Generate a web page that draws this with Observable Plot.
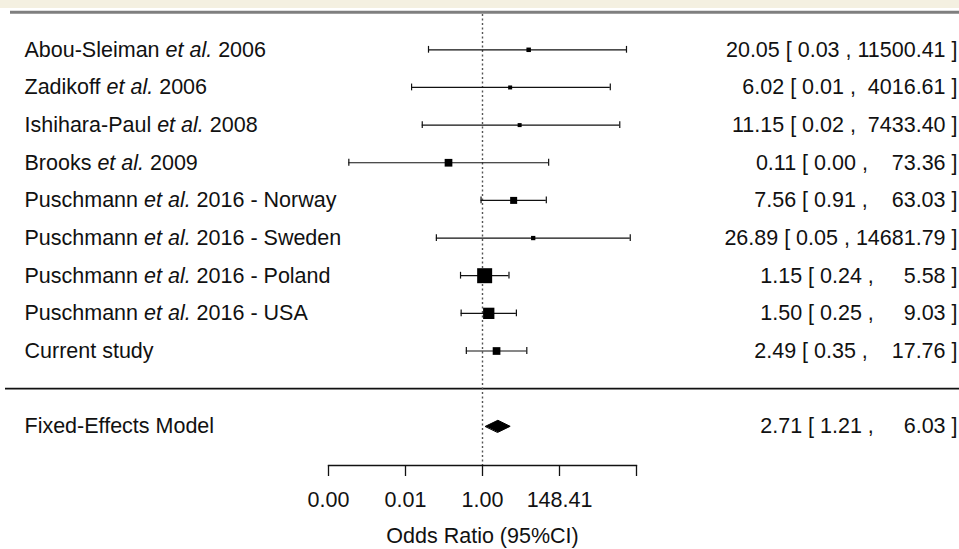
<!DOCTYPE html>
<html>
<head>
<meta charset="utf-8">
<script src="https://cdn.jsdelivr.net/npm/d3@7"></script>
<script src="https://cdn.jsdelivr.net/npm/@observablehq/plot@0.6"></script>
<style>
  html, body { margin: 0; padding: 0; background: #fff; }
  svg text { white-space: pre; }
</style>
</head>
<body>
<div id="chart"></div>
<script>
// ---- data ----
const studies = [
  "Abou-Sleiman et al. 2006",
  "Zadikoff et al. 2006",
  "Ishihara-Paul et al. 2008",
  "Brooks et al. 2009",
  "Puschmann et al. 2016 - Norway",
  "Puschmann et al. 2016 - Sweden",
  "Puschmann et al. 2016 - Poland",
  "Puschmann et al. 2016 - USA",
  "Current study"
];
const oddsRatio = [20.05, 6.02, 11.15, 0.11, 7.56, 26.89, 1.15, 1.50, 2.49];
const ciLower   = [0.03, 0.01, 0.02, 0.00017, 0.91, 0.05, 0.24, 0.25, 0.35];
const ciUpper   = [11500.41, 4016.61, 7433.40, 73.36, 63.03, 14681.79, 5.58, 9.03, 17.76];
const relWeight = [4.5, 4.0, 4.0, 7.7, 7.0, 4.3, 15.0, 11.3, 7.7];

const summaryLabel = "Fixed-Effects Model";
const summaryOR = [2.71];
const summaryLower = [1.21];
const summaryUpper = [6.03];

const tickLogs = [-10, -5, 0, 5, 10];
const tickLabels = ["0.00", "0.01", "1.00", "148.41", ""];
const axisTitle = "Odds Ratio (95%CI)";

// ---- tables ----
const rows = studies.map((s, i) => ({
  study: s, row: i, or: oddsRatio[i], lo: ciLower[i], hi: ciUpper[i], w: relWeight[i]
}));
const summaryRow = studies.length + 1;
const fmt = (est, lo, hi) =>
  `${est.toFixed(2).padStart(5)} [ ${lo.toFixed(2)} , ${hi.toFixed(2).padStart(8)} ]`;
rows.forEach(d => d.label = fmt(d.or, d.lo, d.hi));
const summary = [{
  study: summaryLabel, row: summaryRow, or: summaryOR[0], lo: summaryLower[0], hi: summaryUpper[0],
  label: fmt(summaryOR[0], summaryLower[0], summaryUpper[0])
}];
const dh = 0.16;
const diamond = [
  {x: summary[0].lo, y: summaryRow},
  {x: summary[0].or, y: summaryRow - dh},
  {x: summary[0].hi, y: summaryRow},
  {x: summary[0].or, y: summaryRow + dh}
];

const ticks = tickLogs.map((v, i) => ({x: Math.exp(v), label: tickLabels[i]}));

const capH = 0.09;
const font = "'Liberation Sans', Arial, Helvetica, sans-serif";
const ink = "#111";

const plot = Plot.plot({
  width: 959,
  height: 549,
  marginLeft: 328,
  marginRight: 323,
  marginTop: 14,
  marginBottom: 84,
  style: {
    fontFamily: font,
    fontSize: "21.5px",
    color: ink,
    background: "linear-gradient(to bottom, #f4f0e1 0px, #f4f0e1 8px, #ffffff 8px, #ffffff 100%)",
    overflow: "visible"
  },
  x: {type: "log", domain: [Math.exp(-10), Math.exp(10)]},
  y: {domain: [0, summaryRow], range: [49.3, 425.8], axis: null},
  r: {type: "linear", domain: [0, 15], range: [0, 15 / Math.sqrt(Math.PI)]},
  marks: [
    // top grey rule and separator line
    Plot.ruleY([-1], {stroke: "#7f7f7f", strokeWidth: 3, insetLeft: -318, insetRight: -323}),
    Plot.ruleY([studies.length], {stroke: ink, strokeWidth: 1.6, insetLeft: -323, insetRight: -323}),
    // reference line at OR = 1
    Plot.ruleX([1], {stroke: "#555", strokeWidth: 1.4, strokeDasharray: "2,2.5"}),
    // axis
    Plot.frame({anchor: "bottom", stroke: ink, strokeWidth: 1.3}),
    Plot.axisX({ticks: ticks.map(d => d.x), tickFormat: () => "", tickSize: 11, label: null, stroke: ink, strokeWidth: 1.3}),
    Plot.text(ticks, {x: "x", text: "label", frameAnchor: "bottom", dy: 26, lineAnchor: "top", fill: ink}),
    Plot.text([axisTitle], {frameAnchor: "bottom", dy: 71, lineAnchor: "middle", fill: ink}),
    // whiskers with caps
    Plot.ruleY(rows, {y: "row", x1: "lo", x2: "hi", stroke: ink, strokeWidth: 1.2}),
    Plot.ruleX(rows, {x: "lo", y1: d => d.row - capH, y2: d => d.row + capH, stroke: ink, strokeWidth: 1.2}),
    Plot.ruleX(rows, {x: "hi", y1: d => d.row - capH, y2: d => d.row + capH, stroke: ink, strokeWidth: 1.2}),
    // squares
    Plot.dot(rows, {x: "or", y: "row", r: "w", symbol: "square", fill: "#000", stroke: null}),
    // summary diamond
    Plot.line(diamond, {x: "x", y: "y", curve: "linear-closed", fill: "#000", stroke: "#000", strokeWidth: 1}),
    // left labels
    Plot.text(rows.concat(summary), {y: "row", text: "study", frameAnchor: "left", dx: -304, textAnchor: "start", lineAnchor: "middle", fill: ink}),
    // right labels
    Plot.text(rows.concat(summary), {y: "row", text: "label", frameAnchor: "right", dx: 321, textAnchor: "end", lineAnchor: "middle", fill: ink})
  ]
});

// italicise "et al." and preserve spaces
const NS = "http://www.w3.org/2000/svg";
plot.querySelectorAll("text").forEach(t => {
  t.setAttributeNS("http://www.w3.org/XML/1998/namespace", "xml:space", "preserve");
  const s = t.textContent;
  const k = s.indexOf("et al.");
  if (k >= 0 && t.children.length === 0) {
    t.textContent = "";
    const a = document.createElementNS(NS, "tspan"); a.textContent = s.slice(0, k);
    const b = document.createElementNS(NS, "tspan"); b.textContent = "et al."; b.setAttribute("font-style", "italic");
    const c = document.createElementNS(NS, "tspan"); c.textContent = s.slice(k + 6);
    t.append(a, b, c);
  }
});
document.getElementById("chart").appendChild(plot);
</script>
</body>
</html>
